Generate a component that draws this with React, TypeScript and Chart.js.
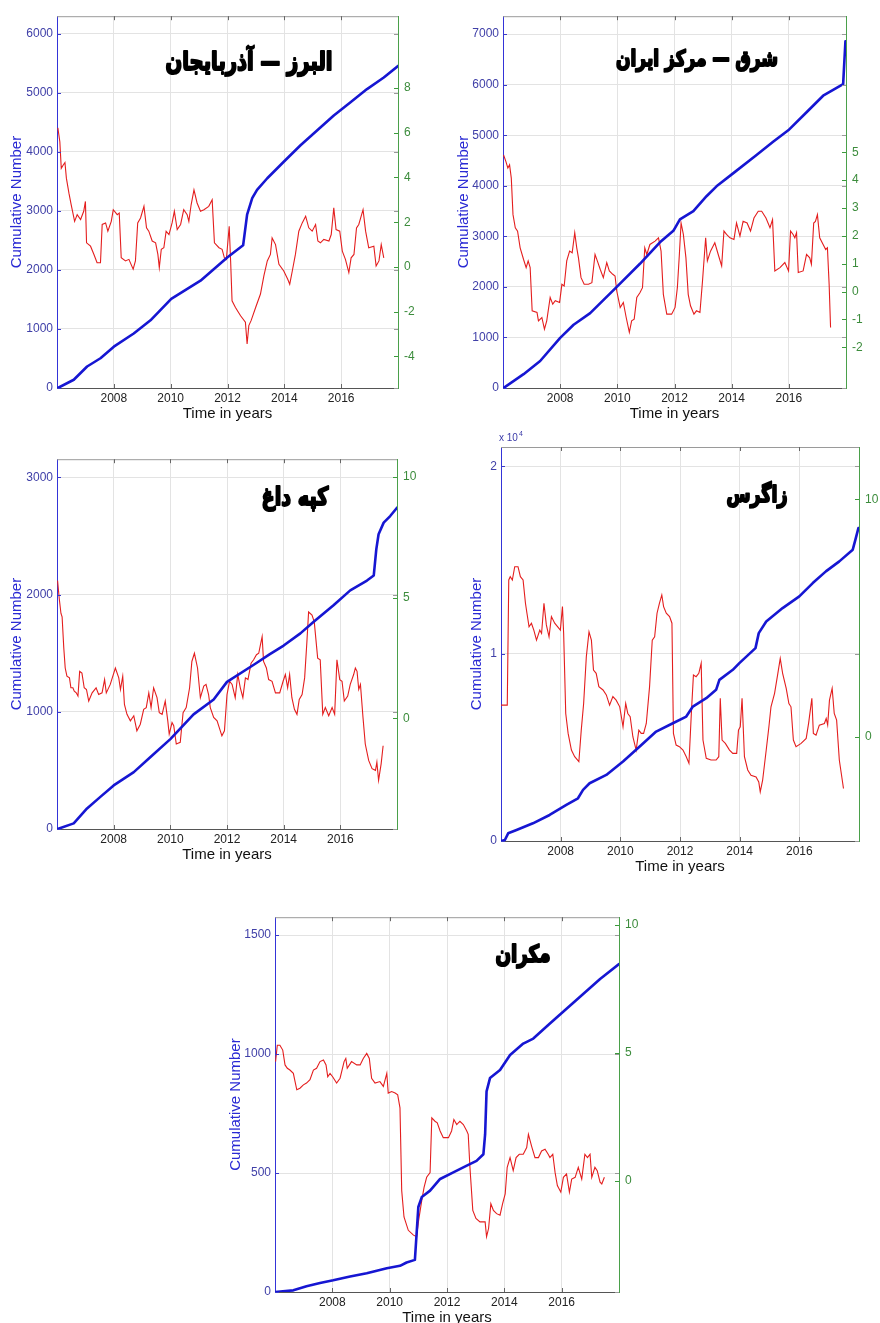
import React, { useEffect, useRef } from "react";
import { Chart, registerables } from "chart.js";
Chart.register(...registerables);

const FONT = '"Liberation Sans", Arial, Helvetica, sans-serif';
const LEFT_W = 57;
const X_H = 40;

const yearTicks = [2008, 2010, 2012, 2014, 2016];
const xTitle = "Time in years";
const yTitle = "Cumulative Number";

// ---------- Alborz - Azerbaijan ----------
const albBlueT = [2006.03, 2006.59, 2007.06, 2007.53, 2008.0, 2008.70, 2009.29, 2010.02, 2011.05, 2011.99, 2012.55, 2012.69, 2012.87, 2013.04, 2013.40, 2013.98, 2014.57, 2015.16, 2015.74, 2016.33, 2016.91, 2017.50, 2018.0];
const albBlueV = [0, 140, 364, 504, 700, 923, 1147, 1511, 1819, 2211, 2418, 2938, 3218, 3358, 3554, 3834, 4114, 4366, 4618, 4841, 5065, 5261, 5457];
const albRedT = [2006.03,2006.10,2006.15,2006.22,2006.28,2006.33,2006.42,2006.50,2006.62,2006.71,2006.83,2006.94,2007.00,2007.04,2007.18,2007.30,2007.41,2007.53,2007.59,2007.71,2007.79,2007.91,2007.98,2008.12,2008.19,2008.26,2008.41,2008.53,2008.68,2008.76,2008.84,2008.94,2009.06,2009.15,2009.23,2009.35,2009.47,2009.55,2009.60,2009.67,2009.76,2009.84,2009.94,2010.05,2010.13,2010.23,2010.35,2010.46,2010.58,2010.64,2010.72,2010.82,2010.93,2011.05,2011.17,2011.34,2011.46,2011.54,2011.70,2011.81,2011.89,2011.96,2012.06,2012.11,2012.16,2012.28,2012.46,2012.63,2012.69,2012.75,2012.83,2012.99,2013.16,2013.28,2013.40,2013.51,2013.57,2013.69,2013.81,2013.98,2014.12,2014.19,2014.28,2014.39,2014.51,2014.63,2014.75,2014.86,2014.98,2015.10,2015.18,2015.27,2015.39,2015.57,2015.65,2015.74,2015.82,2015.95,2016.04,2016.15,2016.27,2016.35,2016.45,2016.54,2016.62,2016.77,2016.86,2016.97,2017.15,2017.23,2017.33,2017.41,2017.50];
const albRedV = [6.22,5.6,4.41,4.56,4.67,3.97,3.3,2.78,2.04,2.34,2.12,2.49,2.93,1.08,0.93,0.56,0.19,0.19,1.9,1.97,1.6,2.04,2.56,2.34,2.41,0.41,0.27,0.34,-0.1,0.27,1.97,2.19,2.71,1.75,1.6,1.16,1.08,0.56,-0.03,0.79,0.86,1.6,1.45,1.97,2.49,1.67,1.9,2.56,2.34,2.04,2.78,3.45,2.86,2.49,2.56,2.71,3.0,1.08,0.86,0.79,0.41,0.34,1.82,0.27,-1.51,-1.81,-2.18,-2.47,-3.44,-2.62,-2.4,-1.81,-1.21,-0.4,0.27,0.56,1.3,1.0,0.12,-0.18,-0.55,-0.77,-0.18,0.56,1.6,1.97,2.27,1.75,1.6,1.9,1.16,1.08,1.23,1.16,1.45,2.64,1.67,1.6,0.71,0.34,-0.25,0.41,0.56,1.75,1.9,2.56,1.6,0.86,0.93,0.04,0.27,1.0,0.41];
const albLeftTicks = [0, 1000, 2000, 3000, 4000, 5000, 6000];
const albRightTicks = [-4, -2, 0, 2, 4, 6, 8];

// ---------- East - Central Iran ----------
const sharqBlueT = [2006.02, 2006.72, 2007.30, 2008.0, 2008.47, 2009.05, 2009.98, 2010.79, 2011.49, 2011.96, 2012.19, 2012.66, 2013.12, 2013.47, 2014.06, 2014.87, 2015.45, 2015.98, 2016.62, 2017.20, 2017.90, 2017.98];
const sharqBlueV = [0, 274, 534, 991, 1251, 1480, 2001, 2457, 2881, 3109, 3337, 3500, 3793, 3989, 4250, 4608, 4869, 5097, 5455, 5781, 6010, 6857];
const sharqRedT = [2006.02,2006.10,2006.17,2006.23,2006.29,2006.35,2006.43,2006.51,2006.60,2006.72,2006.81,2006.88,2006.95,2007.02,2007.19,2007.24,2007.36,2007.45,2007.53,2007.65,2007.74,2007.83,2007.98,2008.06,2008.14,2008.23,2008.33,2008.42,2008.51,2008.58,2008.64,2008.73,2008.84,2008.99,2009.11,2009.22,2009.30,2009.40,2009.51,2009.63,2009.72,2009.84,2009.92,2009.98,2010.10,2010.21,2010.31,2010.42,2010.50,2010.59,2010.68,2010.79,2010.88,2010.96,2011.03,2011.14,2011.32,2011.44,2011.53,2011.61,2011.73,2011.90,2012.02,2012.10,2012.17,2012.23,2012.31,2012.40,2012.48,2012.56,2012.68,2012.77,2012.89,2012.98,2013.09,2013.15,2013.26,2013.41,2013.53,2013.65,2013.73,2013.82,2013.94,2014.08,2014.17,2014.29,2014.40,2014.54,2014.66,2014.78,2014.93,2015.05,2015.20,2015.34,2015.43,2015.51,2015.69,2015.86,2015.99,2016.06,2016.15,2016.21,2016.27,2016.33,2016.50,2016.62,2016.73,2016.79,2016.87,2016.93,2017.00,2017.08,2017.20,2017.29,2017.35,2017.41,2017.46];
const sharqRedV = [4.9,4.67,4.43,4.55,4.07,2.76,2.29,2.17,1.57,1.15,0.86,1.1,0.86,-0.69,-0.75,-1.05,-0.93,-1.35,-1.05,-0.21,-0.45,-0.33,-0.39,0.26,0.2,1.1,1.45,1.39,2.11,1.57,1.21,0.5,0.26,0.26,0.32,1.33,1.1,0.8,0.5,1.04,0.74,0.62,0.56,0.02,-0.57,-0.39,-0.93,-1.46,-1.05,-0.99,-0.21,-0.04,0.14,1.57,1.33,1.69,1.81,1.93,1.45,-0.1,-0.81,-0.81,-0.57,0.14,1.33,2.46,2.05,1.21,-0.1,-0.51,-0.81,-0.69,-0.75,0.38,1.93,1.1,1.45,1.75,1.33,0.92,2.17,2.05,1.93,1.87,2.46,1.99,2.52,2.46,2.17,2.64,2.88,2.88,2.64,2.29,2.58,0.74,0.86,1.04,0.74,2.17,2.05,1.93,2.11,0.68,0.74,1.33,1.21,0.98,2.46,2.52,2.76,1.93,1.69,1.51,1.57,0.26,-1.29];
const sharqLeftTicks = [0, 1000, 2000, 3000, 4000, 5000, 6000, 7000];
const sharqRightTicks = [-2, -1, 0, 1, 2, 3, 4, 5];

// ---------- Kopeh Dagh ----------
const kopBlueT = [2006.02, 2006.59, 2007.06, 2007.53, 2008.0, 2008.71, 2009.29, 2010.0, 2010.82, 2011.53, 2012.0, 2013.0, 2013.5, 2014.0, 2014.59, 2015.06, 2015.76, 2016.35, 2016.94, 2017.18, 2017.27, 2017.35, 2017.53, 2017.76, 2018.0];
const kopBlueV = [0, 48, 175, 274, 372, 485, 612, 767, 978, 1105, 1255, 1410, 1490, 1565, 1669, 1768, 1909, 2036, 2120, 2163, 2388, 2515, 2614, 2670, 2741];
const kopRedT = [2006.02,2006.08,2006.14,2006.18,2006.24,2006.29,2006.35,2006.44,2006.49,2006.56,2006.61,2006.68,2006.74,2006.80,2006.88,2006.96,2007.04,2007.12,2007.24,2007.38,2007.47,2007.59,2007.68,2007.74,2007.88,2008.06,2008.18,2008.24,2008.32,2008.38,2008.47,2008.59,2008.71,2008.82,2008.94,2009.06,2009.15,2009.24,2009.32,2009.41,2009.53,2009.61,2009.71,2009.82,2009.91,2009.96,2010.06,2010.12,2010.21,2010.35,2010.45,2010.56,2010.68,2010.76,2010.85,2010.96,2011.06,2011.18,2011.26,2011.35,2011.41,2011.53,2011.65,2011.82,2011.91,2012.00,2012.09,2012.18,2012.29,2012.38,2012.47,2012.56,2012.65,2012.74,2012.85,2012.94,2013.04,2013.12,2013.18,2013.24,2013.29,2013.39,2013.47,2013.59,2013.71,2013.86,2013.98,2014.06,2014.14,2014.21,2014.29,2014.38,2014.47,2014.55,2014.65,2014.74,2014.82,2014.88,2015.00,2015.08,2015.20,2015.29,2015.38,2015.47,2015.59,2015.71,2015.80,2015.88,2015.98,2016.06,2016.14,2016.26,2016.35,2016.47,2016.53,2016.59,2016.65,2016.71,2016.80,2016.88,2017.00,2017.12,2017.24,2017.29,2017.35,2017.44,2017.51];
const kopRedV = [5.7,4.95,4.34,4.2,2.9,2.08,1.74,1.67,1.26,1.26,1.12,1.05,0.92,1.94,1.87,1.26,1.19,0.71,1.05,1.26,0.98,1.05,1.6,1.05,1.4,2.08,1.67,1.19,1.74,0.57,0.16,-0.11,0.1,-0.52,-0.25,0.37,0.44,1.05,0.44,1.26,0.85,0.23,0.16,0.71,-0.11,-0.66,-0.18,-0.31,-1.07,-1.0,0.23,0.44,1.26,2.35,2.69,2.08,0.85,1.33,1.4,0.98,0.44,0.03,-0.11,-0.73,-0.52,0.98,1.53,1.4,0.85,1.81,1.26,0.85,1.67,1.6,2.28,2.42,2.63,2.69,3.04,3.38,2.35,2.08,1.6,1.53,1.05,1.05,1.53,1.81,1.26,1.81,0.85,0.37,0.16,0.78,0.98,1.67,3.17,4.4,4.27,3.99,2.49,2.42,0.16,0.44,0.1,0.44,0.16,2.42,1.6,1.53,0.71,0.92,1.4,1.81,2.08,1.94,1.19,1.4,0.03,-1.07,-1.75,-2.09,-2.16,-1.82,-2.57,-1.89,-1.14];
const kopLeftTicks = [0, 1000, 2000, 3000];
const kopRightTicks = [0, 5, 10];

// ---------- Zagros ----------
const zagBlueT = [2006.0, 2006.13, 2006.24, 2006.52, 2007.07, 2007.63, 2008.19, 2008.58, 2008.75, 2008.97, 2009.53, 2010.09, 2010.65, 2011.20, 2011.76, 2012.21, 2012.43, 2012.88, 2013.21, 2013.32, 2013.77, 2013.99, 2014.53, 2014.64, 2014.89, 2015.44, 2016.00, 2016.45, 2016.89, 2017.34, 2017.79, 2017.88, 2017.98];
const zagBlueV = [0, 53, 410, 588, 944, 1389, 1923, 2280, 2725, 3081, 3526, 4239, 5040, 5842, 6287, 6643, 7177, 7623, 8068, 8602, 9137, 9493, 10294, 11096, 11719, 12431, 13055, 13767, 14390, 14925, 15548, 16082, 16706];
const zagRedT = [2006.0,2006.21,2006.26,2006.31,2006.38,2006.46,2006.57,2006.65,2006.74,2006.82,2006.87,2006.94,2007.02,2007.10,2007.19,2007.30,2007.36,2007.44,2007.52,2007.61,2007.69,2007.80,2007.99,2008.06,2008.10,2008.17,2008.25,2008.36,2008.47,2008.61,2008.69,2008.77,2008.86,2008.95,2009.03,2009.10,2009.19,2009.28,2009.42,2009.53,2009.64,2009.75,2009.86,2009.98,2010.09,2010.18,2010.25,2010.33,2010.42,2010.53,2010.62,2010.70,2010.78,2010.87,2010.98,2011.07,2011.15,2011.23,2011.31,2011.39,2011.45,2011.54,2011.65,2011.73,2011.78,2011.87,2011.98,2012.10,2012.21,2012.30,2012.38,2012.45,2012.54,2012.63,2012.71,2012.77,2012.88,2013.04,2013.21,2013.30,2013.35,2013.41,2013.52,2013.66,2013.77,2013.90,2013.96,2014.02,2014.08,2014.16,2014.27,2014.38,2014.55,2014.64,2014.69,2014.77,2014.89,2014.98,2015.05,2015.17,2015.28,2015.36,2015.44,2015.56,2015.65,2015.72,2015.80,2015.89,2016.06,2016.23,2016.31,2016.42,2016.47,2016.56,2016.67,2016.84,2016.90,2016.95,2017.01,2017.10,2017.17,2017.25,2017.34,2017.48];
const zagRedV = [1.33,1.33,6.6,6.74,6.6,7.16,7.16,6.74,6.6,5.62,5.2,4.63,4.78,4.49,4.07,4.49,4.35,5.62,4.71,4.21,5.06,4.78,4.49,5.48,4.35,0.98,0.14,-0.56,-0.84,-1.05,0.28,1.4,3.37,4.42,4.07,2.81,2.67,2.11,1.97,1.76,1.33,1.69,1.54,1.26,0.42,1.4,0.98,0.84,0.0,-0.56,0.28,0.14,0.14,0.56,2.11,4.07,4.21,5.2,5.62,5.97,5.48,5.2,5.06,4.78,0.14,-0.35,-0.42,-0.56,-0.84,-1.12,0.98,2.6,2.53,2.67,3.09,-0.14,-0.91,-0.98,-0.98,-0.84,1.62,-0.14,-0.28,-0.56,-0.7,-0.7,0.28,0.42,1.62,-0.84,-1.4,-1.62,-1.69,-1.9,-2.32,-1.83,-0.56,0.42,1.26,1.83,2.67,3.3,2.67,2.04,1.4,1.26,-0.14,-0.42,-0.28,-0.07,0.56,1.62,0.14,0.07,0.49,0.56,0.77,0.49,1.54,2.04,0.98,0.7,-0.98,-2.18];
const zagLeftTicks = [0, 10000, 20000];
const zagRightTicks = [0, 10];

// ---------- Makran ----------
const makBlueT = [2006.0, 2006.64, 2007.10, 2007.57, 2008.03, 2008.62, 2009.20, 2009.90, 2010.36, 2010.59, 2010.88, 2010.94, 2011.0, 2011.12, 2011.41, 2011.76, 2012.22, 2012.69, 2013.03, 2013.27, 2013.33, 2013.38, 2013.50, 2013.85, 2014.20, 2014.66, 2015.01, 2015.59, 2016.17, 2016.76, 2017.34, 2018.0];
const makBlueV = [0, 7, 24, 38, 49, 65, 79, 100, 110, 124, 135, 246, 357, 399, 426, 475, 503, 531, 551, 579, 663, 843, 899, 933, 996, 1044, 1065, 1128, 1190, 1253, 1315, 1378];
const makRedT = [2006.02,2006.08,2006.17,2006.27,2006.35,2006.43,2006.52,2006.64,2006.70,2006.76,2006.87,2006.99,2007.10,2007.22,2007.34,2007.45,2007.57,2007.69,2007.78,2007.84,2007.92,2008.01,2008.15,2008.27,2008.41,2008.47,2008.52,2008.67,2008.85,2008.97,2009.08,2009.20,2009.29,2009.37,2009.49,2009.66,2009.78,2009.90,2009.95,2010.07,2010.19,2010.28,2010.36,2010.42,2010.50,2010.65,2010.83,2010.94,2011.01,2011.12,2011.20,2011.29,2011.41,2011.47,2011.58,2011.66,2011.76,2011.87,2012.05,2012.16,2012.24,2012.34,2012.45,2012.57,2012.69,2012.74,2012.80,2012.90,2013.01,2013.15,2013.33,2013.38,2013.45,2013.53,2013.62,2013.73,2013.85,2013.94,2014.03,2014.10,2014.20,2014.31,2014.41,2014.52,2014.66,2014.78,2014.84,2014.95,2015.07,2015.19,2015.30,2015.42,2015.53,2015.59,2015.69,2015.77,2015.85,2015.97,2016.06,2016.17,2016.27,2016.35,2016.47,2016.58,2016.70,2016.81,2016.90,2016.99,2017.05,2017.16,2017.24,2017.34,2017.40,2017.49];
const makRedV = [4.65,5.29,5.29,5.1,4.52,4.39,4.32,4.19,3.87,3.55,3.61,3.74,3.81,3.94,4.32,4.39,4.65,4.71,4.52,4.06,4.19,4.06,3.81,4.0,4.65,4.77,4.39,4.65,4.52,4.52,4.77,4.97,4.77,4.0,3.81,3.87,3.68,4.19,3.42,3.48,3.42,3.35,2.84,-0.39,-1.42,-1.94,-2.13,-2.19,-1.55,-0.77,-0.26,0.13,0.32,2.45,2.32,2.26,1.94,1.68,1.68,1.94,2.39,2.19,2.32,2.19,1.94,1.81,0.52,-1.16,-1.48,-1.61,-1.61,-2.19,-1.87,-0.9,-1.16,-1.29,-1.35,-0.9,-0.52,0.52,0.9,0.39,0.9,1.03,1.03,1.29,1.81,1.35,0.9,0.9,1.16,1.23,1.03,0.9,1.03,0.32,-0.19,-0.45,0.13,0.26,-0.45,0.06,0.13,0.52,0.06,1.03,0.9,1.03,0.13,0.52,0.39,-0.06,-0.13,0.13];
const makLeftTicks = [0, 500, 1000, 1500];
const makRightTicks = [0, 5, 10];

type Box = { l: number; t: number; r: number; b: number };
interface PanelDef {
  id: string;
  name: string;
  blueT: number[]; blueV: number[];
  redT: number[]; redV: number[];
  yMax: number; yTicks: number[]; yDiv: number;
  y2Min: number; y2Max: number; y2Ticks: number[];
  box: Box; rightW: number; topPad: number; yTitlePad: number;
  label: { x: number; y: number; w: number };
  exp?: boolean;
}

const panels: PanelDef[] = [
  { id: "alborz", name: "البرز — آذربایجان", blueT: albBlueT, blueV: albBlueV, redT: albRedT, redV: albRedV,
    yMax: 6300, yTicks: albLeftTicks, yDiv: 1, y2Min: -5.41, y2Max: 11.21, y2Ticks: albRightTicks,
    box: { l: 57, t: 13, r: 398, b: 388 }, rightW: 40, topPad: 10, yTitlePad: 8, label: { x: 249, y: 63, w: 170 } },
  { id: "sharq", name: "شرق — مرکز ایران", blueT: sharqBlueT, blueV: sharqBlueV, redT: sharqRedT, redV: sharqRedV,
    yMax: 7354, yTicks: sharqLeftTicks, yDiv: 1, y2Min: -3.46, y2Max: 9.88, y2Ticks: sharqRightTicks,
    box: { l: 503, t: 13, r: 846, b: 388 }, rightW: 30, topPad: 10, yTitlePad: 9, label: { x: 697, y: 60, w: 165 } },
  { id: "kopeh", name: "کپه داغ", blueT: kopBlueT, blueV: kopBlueV, redT: kopRedT, redV: kopRedV,
    yMax: 3155, yTicks: kopLeftTicks, yDiv: 1, y2Min: -4.59, y2Max: 10.73, y2Ticks: kopRightTicks,
    box: { l: 57, t: 456, r: 397, b: 829 }, rightW: 40, topPad: 10, yTitlePad: 8, label: { x: 295, y: 499, w: 70 } },
  { id: "zagros", name: "زاگرس", blueT: zagBlueT, blueV: zagBlueV, redT: zagRedT, redV: zagRedV,
    yMax: 21030, yTicks: zagLeftTicks, yDiv: 10000, y2Min: -4.39, y2Max: 12.2, y2Ticks: zagRightTicks,
    box: { l: 501, t: 447, r: 859, b: 841 }, rightW: 21, topPad: 20, yTitlePad: 24, label: { x: 757, y: 496, w: 64 }, exp: true },
  { id: "makran", name: "مکران", blueT: makBlueT, blueV: makBlueV, redT: makRedT, redV: makRedV,
    yMax: 1575, yTicks: makLeftTicks, yDiv: 1, y2Min: -4.35, y2Max: 10.29, y2Ticks: makRightTicks,
    box: { l: 275, t: 914, r: 619, b: 1292 }, rightW: 40, topPad: 10, yTitlePad: 9, label: { x: 523, y: 956, w: 58 } },
];

const toPts = (t: number[], v: number[]) => {
  const n = Math.min(t.length, v.length);
  const out: { x: number; y: number }[] = [];
  for (let i = 0; i < n; i++) out.push({ x: t[i], y: v[i] });
  return out;
};

const decorPlugin = {
  id: "decor",
  afterDraw(chart: any, _args: any, opts: any) {
    const { ctx, chartArea: a, scales } = chart;
    ctx.save();
    ctx.lineWidth = 1;
    const line = (x1: number, y1: number, x2: number, y2: number) => {
      ctx.beginPath(); ctx.moveTo(x1, y1); ctx.lineTo(x2, y2); ctx.stroke();
    };
    ctx.strokeStyle = "#9a9a9a";
    line(a.left, a.top + 0.5, a.right, a.top + 0.5);
    const L = 4;
    ctx.strokeStyle = "#666";
    for (const t of scales.x.ticks) {
      const px = Math.round(scales.x.getPixelForValue(t.value)) + 0.5;
      line(px, a.bottom, px, a.bottom - L);
      line(px, a.top, px, a.top + L);
    }
    for (const t of scales.y.ticks) {
      const py = Math.round(scales.y.getPixelForValue(t.value)) + 0.5;
      ctx.strokeStyle = "#3a3ac8";
      line(a.left, py, a.left + L, py);
      ctx.strokeStyle = "#999";
      line(a.right - L, py, a.right, py);
    }
    ctx.strokeStyle = "#3c9a3c";
    for (const t of scales.y2.ticks) {
      const py = Math.round(scales.y2.getPixelForValue(t.value)) + 0.5;
      line(a.right - L, py, a.right, py);
    }
    // region title (heavy Persian lettering)
    let size = 24;
    ctx.font = `bold ${size}px "DejaVu Sans", sans-serif`;
    ctx.direction = "rtl";
    const m = ctx.measureText(opts.text).width;
    if (m > 0) size = Math.min(34, Math.max(14, (size * (opts.w - 3)) / m));
    ctx.font = `bold ${size}px "DejaVu Sans", sans-serif`;
    ctx.fillStyle = "#000";
    ctx.strokeStyle = "#000";
    ctx.lineJoin = "round";
    ctx.textAlign = "center";
    ctx.textBaseline = "middle";
    ctx.translate(opts.x, opts.y);
    ctx.scale(1, 1.3);
    ctx.fillText(opts.text, 0, 0);
    ctx.lineWidth = 1.6;
    ctx.strokeText(opts.text, 0, 0);
    ctx.setTransform(1, 0, 0, 1, 0, 0);
    if (opts.exp) {
      ctx.direction = "ltr";
      ctx.textAlign = "left";
      ctx.textBaseline = "alphabetic";
      ctx.fillStyle = "#3a3aa8";
      ctx.font = `10px ${FONT}`;
      ctx.fillText("x 10", a.left - 2, a.top - 6);
      ctx.font = `7px ${FONT}`;
      ctx.fillText("4", a.left + 18, a.top - 11);
    }
    ctx.restore();
  },
};

function Panel({ p }: { p: PanelDef }) {
  const ref = useRef<HTMLCanvasElement | null>(null);
  const cl = p.box.l - LEFT_W;
  const ct = p.box.t - p.topPad;
  const cw = p.box.r - p.box.l + LEFT_W + p.rightW;
  const ch = p.box.b - p.box.t + p.topPad + X_H;

  useEffect(() => {
    if (!ref.current) return;
    const chart = new Chart(ref.current, {
      type: "line",
      data: {
        datasets: [
          { data: toPts(p.blueT, p.blueV), yAxisID: "y", borderColor: "#1616d2", borderWidth: 2.6, pointRadius: 0, tension: 0, borderJoinStyle: "round", borderCapStyle: "round" },
          { data: toPts(p.redT, p.redV), yAxisID: "y2", borderColor: "#e41e1e", borderWidth: 1.1, pointRadius: 0, tension: 0 },
        ],
      },
      options: {
        responsive: false,
        animation: false,
        devicePixelRatio: 1,
        layout: { padding: { left: 0, right: 0, top: p.topPad, bottom: 0 } },
        plugins: {
          legend: { display: false },
          tooltip: { enabled: false },
          decor: { text: p.name, x: p.label.x - cl, y: p.label.y - ct, w: p.label.w, exp: !!p.exp },
        } as any,
        scales: {
          x: {
            type: "linear", min: 2006, max: 2018,
            afterBuildTicks: (s: any) => { s.ticks = yearTicks.map((v) => ({ value: v })); },
            afterFit: (s: any) => { s.height = X_H; },
            ticks: { color: "#222", font: { family: FONT, size: 12 }, padding: 3, maxRotation: 0, callback: (v: any) => String(v) },
            grid: { color: "#e3e3e3", drawTicks: false },
            border: { color: "#555" },
            title: { display: true, text: xTitle, color: "#111", font: { family: FONT, size: 15 }, padding: { top: 0, bottom: 5 } },
          },
          y: {
            type: "linear", position: "left", min: 0, max: p.yMax,
            afterBuildTicks: (s: any) => { s.ticks = p.yTicks.map((v) => ({ value: v })); },
            afterFit: (s: any) => { s.width = LEFT_W; },
            ticks: { color: "#4040a8", font: { family: FONT, size: 12 }, padding: 4, callback: (v: any) => String(Number(v) / p.yDiv) },
            grid: { color: "#e3e3e3", drawTicks: false },
            border: { color: "#3434d8" },
            title: { display: true, text: yTitle, color: "#2a2ad4", font: { family: FONT, size: 15 }, padding: { top: p.yTitlePad, bottom: 0 } },
          },
          y2: {
            type: "linear", position: "right", min: p.y2Min, max: p.y2Max,
            afterBuildTicks: (s: any) => { s.ticks = p.y2Ticks.map((v) => ({ value: v })); },
            afterFit: (s: any) => { s.width = p.rightW; },
            ticks: { color: "#3c8c3c", font: { family: FONT, size: 12 }, padding: 6, callback: (v: any) => String(v) },
            grid: { drawOnChartArea: false, drawTicks: false },
            border: { color: "#4aa04a" },
          },
        },
      } as any,
      plugins: [decorPlugin as any],
    });
    return () => chart.destroy();
  }, []);

  return (
    <canvas
      ref={ref}
      width={cw}
      height={ch}
      style={{ position: "absolute", left: cl, top: ct, width: cw, height: ch }}
    />
  );
}

export default function App() {
  return (
    <div style={{ position: "absolute", left: 0, top: 0, width: 880, height: 1323, overflow: "hidden", background: "#fff" }}>
      {panels.map((p) => (
        <Panel key={p.id} p={p} />
      ))}
    </div>
  );
}
